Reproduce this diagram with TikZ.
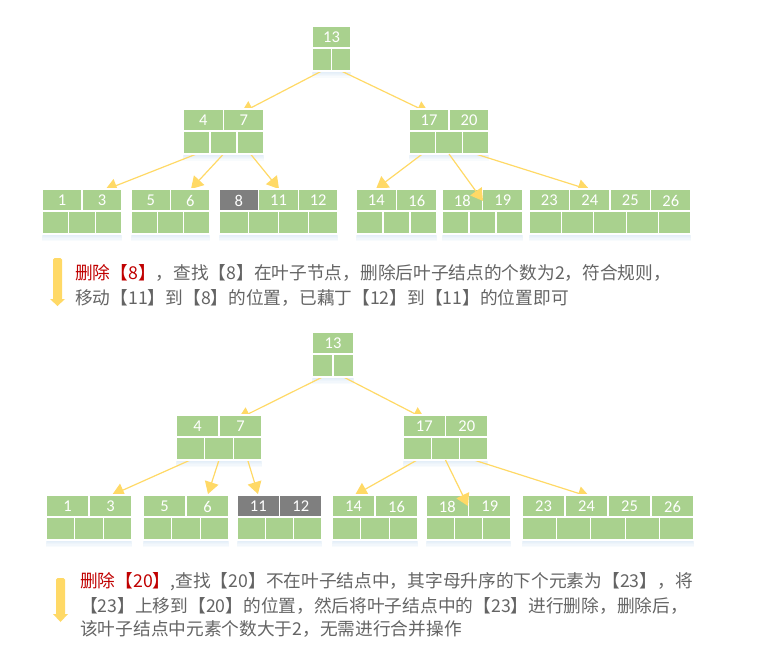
\documentclass[tikz,border=0pt]{standalone}
\usepackage{fontspec}
\setmainfont{Carlito}
\newfontfamily\cjk{Noto Sans CJK SC}
\usetikzlibrary{arrows.meta,calc}
\pgfdeclarelayer{glow}
\pgfdeclarelayer{links}
\pgfsetlayers{glow,links,main}

\definecolor{cellgreen}{HTML}{A9D18E}
\definecolor{cellgray}{HTML}{7F7F7F}
\definecolor{linkyellow}{HTML}{FFD966}
\definecolor{glowblue}{HTML}{BDD7EE}
\definecolor{notegray}{HTML}{646464}
\definecolor{notered}{HTML}{C00000}

\tikzset{
  keycell/.style={fill=#1, draw=white, line width=1.3pt},
  ptrcell/.style={fill=cellgreen, draw=white, line width=1.3pt},
  keylabel/.style={text=white, font=\fontsize{16.5}{17}\selectfont, inner sep=0pt},
  frame/.style={inner sep=0pt, outer sep=0pt, anchor=north west},
  link/.style={draw=linkyellow, line width=1.2pt, -{Triangle[width=14pt,length=12pt]}},
  notetext/.style={anchor=base west, inner sep=0pt, text=notegray, font=\fontsize{17.7}{20}\cjk},
  hintarrow/.style={fill=linkyellow},
}

% B-tree node: name, left x, top y, width, keys as label/colour
\newcommand\treenode[5]{%
  \foreach \v/\c [count=\n] in {#5} {\xdef\keycount{\n}}%
  \pgfmathsetmacro\kw{#4/\keycount}%
  \pgfmathsetmacro\cw{#4/(\keycount+1)}%
  \pgfmathtruncatemacro\ptrcount{\keycount+1}%
  \node[frame, minimum width=#4pt, minimum height=45pt] (#1) at (#2,#3) {};
  \begin{pgfonlayer}{glow}
    \foreach \g in {1,...,6}
      \fill[glowblue, opacity=0.10] (#2+2-\g*0.4, #3+12) rectangle (#2+#4-2+\g*0.4, #3+44+\g*1.3);
  \end{pgfonlayer}
  \foreach \v/\c [count=\i] in {#5} {
    \path[keycell=\c] (#2+\i*\kw-\kw, #3) rectangle (#2+\i*\kw, #3+22);
    \node[keylabel] (#1-k\i) at (#2+\i*\kw-0.5*\kw, #3+11.5) {\v};
  }
  \foreach \j in {1,...,\ptrcount} {
    \path[ptrcell] (#2+\j*\cw-\cw, #3+22) rectangle (#2+\j*\cw, #3+45);
    \coordinate (#1-c\j) at (#2+\j*\cw-0.5*\cw, #3+45);
  }
}

\begin{document}
\begin{tikzpicture}[x=1pt, y=-1pt]
\useasboundingbox (0,0) rectangle (770,647);

% ---------- tree before deleting 8 ----------
\treenode{root1}{312}{26}{39}{13/cellgreen}
\treenode{left1}{183}{109}{81}{4/cellgreen,7/cellgreen}
\treenode{right1}{409}{109}{80}{17/cellgreen,20/cellgreen}
\treenode{leafA1}{42}{189}{80}{1/cellgreen,3/cellgreen}
\treenode{leafB1}{131}{189}{79}{5/cellgreen,6/cellgreen}
\treenode{leafC1}{219}{189}{119}{8/cellgray,11/cellgreen,12/cellgreen}
\treenode{leafD1}{356}{189}{81}{14/cellgreen,16/cellgreen}
\treenode{leafE1}{442}{189}{81}{18/cellgreen,19/cellgreen}
\treenode{leafF1}{529}{189}{162}{23/cellgreen,24/cellgreen,25/cellgreen,26/cellgreen}

\begin{pgfonlayer}{links}
  \draw[link] (root1-c1) -- ($(left1.north west)+(58,4)$);
  \draw[link] (root1-c2) -- ($(right1.north west)+(20,4)$);
  \draw[link] (left1-c1) -- ($(leafA1.north west)+(63,1)$);
  \draw[link] (left1-c2) -- ($(leafB1.north west)+(60,0)$);
  \draw[link] (left1-c3) -- ($(leafC1.north west)+(60,0)$);
  \draw[link] (right1-c1) -- ($(leafD1.north west)+(20,0)$);
  \draw[link] (right1-c3) -- ($(leafF1.north west)+(61,1)$);
\end{pgfonlayer}
\draw[link] (right1-c2) -- ($(leafE1.north west)+(41,12)$);

% ---------- note on deleting 8 ----------
\fill[hintarrow, rounded corners=1.5pt] (53,258) rectangle (62,300);
\fill[hintarrow] (50,299) -- (65,299) -- (57.5,306) -- cycle;
\node[notetext] (note1a) at (75,279) {\textcolor{notered}{删除【8】}，查找【8】在叶子节点，删除后叶子结点的个数为2，符合规则，};
\node[notetext] (note1b) at (75,304) {移动【11】到【8】的位置，已藕丁【12】到【11】的位置即可};

% ---------- tree after deleting 8 ----------
\treenode{root2}{312}{332}{42}{13/cellgreen}
\treenode{left2}{176}{415}{86}{4/cellgreen,7/cellgreen}
\treenode{right2}{403}{415}{85}{17/cellgreen,20/cellgreen}
\treenode{leafA2}{46}{495}{86}{1/cellgreen,3/cellgreen}
\treenode{leafB2}{143}{495}{86}{5/cellgreen,6/cellgreen}
\treenode{leafC2}{237}{495}{85}{11/cellgray,12/cellgray}
\treenode{leafD2}{332}{495}{86}{14/cellgreen,16/cellgreen}
\treenode{leafE2}{426}{495}{85}{18/cellgreen,19/cellgreen}
\treenode{leafF2}{522}{495}{172}{23/cellgreen,24/cellgreen,25/cellgreen,26/cellgreen}

\begin{pgfonlayer}{links}
  \draw[link] (root2-c1) -- ($(left2.north west)+(62,4)$);
  \draw[link] (root2-c2) -- ($(right2.north west)+(22,4)$);
  \draw[link] (left2-c1) -- ($(leafA2.north west)+(66,0)$);
  \draw[link] (left2-c2) -- ($(leafB2.north west)+(65,-1)$);
  \draw[link] (left2-c3) -- ($(leafC2.north west)+(21,-1)$);
  \draw[link] (right2-c1) -- ($(leafD2.north west)+(23,0)$);
  \draw[link] (right2-c3) -- ($(leafF2.north west)+(68,2)$);
\end{pgfonlayer}
\draw[link] (right2-c2) -- ($(leafE2.north west)+(42,11)$);

% ---------- note on deleting 20 ----------
\fill[hintarrow, rounded corners=1.5pt] (56,578) rectangle (65,615);
\fill[hintarrow] (53,614) -- (68,614) -- (60.5,622) -- cycle;
\node[notetext] (note2a) at (80,587) {\textcolor{notered}{删除【20】},查找【20】不在叶子结点中，其字母升序的下个元素为【23】，将};
\node[notetext] (note2b) at (80,612) {【23】上移到【20】的位置，然后将叶子结点中的【23】进行删除，删除后，};
\node[notetext] (note2c) at (80,635) {该叶子结点中元素个数大于2，无需进行合并操作};
\end{tikzpicture}
\end{document}
